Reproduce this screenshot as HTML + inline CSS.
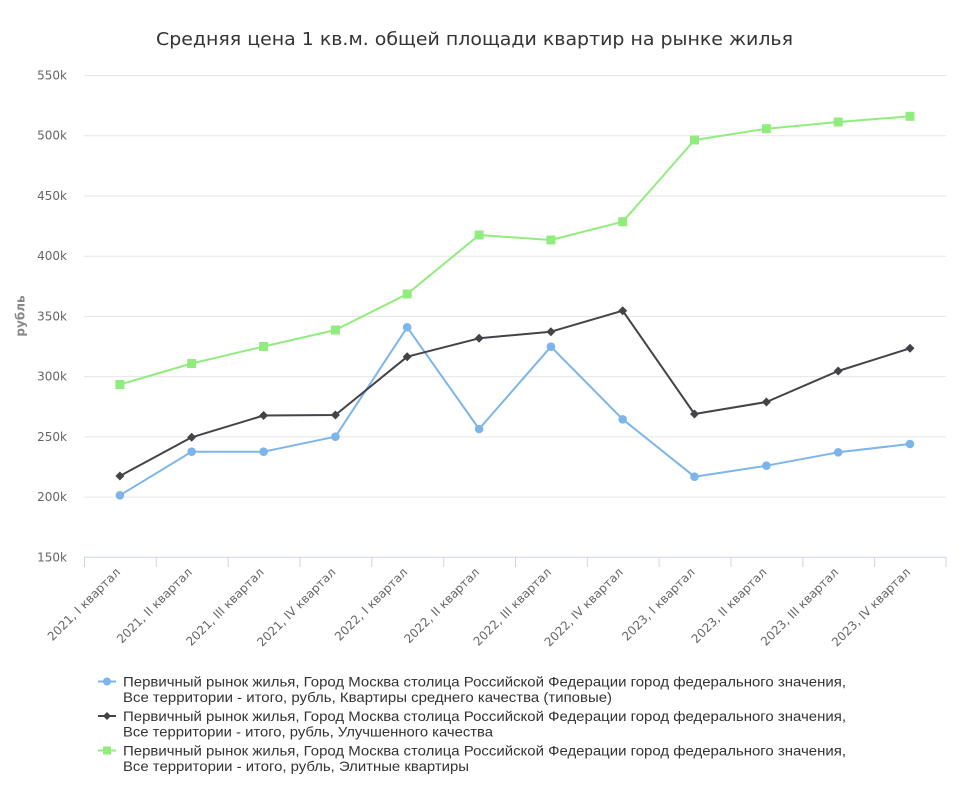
<!DOCTYPE html>
<html>
<head>
<meta charset="utf-8">
<style>
html,body{margin:0;padding:0;background:#fff;}
svg{display:block;}
</style>
</head>
<body>
<svg width="970" height="801" viewBox="0 0 970 801" xmlns="http://www.w3.org/2000/svg">
<rect width="970" height="801" fill="#ffffff"/>
<!-- title -->
<text x="156" y="45" font-family="'DejaVu Sans', sans-serif" font-size="18" fill="#333333" textLength="637" lengthAdjust="spacingAndGlyphs">Средняя цена 1 кв.м. общей площади квартир на рынке жилья</text>

<!-- grid -->
<g stroke="#e6e6e6" stroke-width="1" fill="none">
<line x1="84" y1="75.5" x2="946" y2="75.5"/>
<line x1="84" y1="135.7" x2="946" y2="135.7"/>
<line x1="84" y1="196" x2="946" y2="196"/>
<line x1="84" y1="256.2" x2="946" y2="256.2"/>
<line x1="84" y1="316.4" x2="946" y2="316.4"/>
<line x1="84" y1="376.6" x2="946" y2="376.6"/>
<line x1="84" y1="436.9" x2="946" y2="436.9"/>
<line x1="84" y1="497.1" x2="946" y2="497.1"/>
</g>
<!-- x axis -->
<g stroke="#ccd6eb" stroke-width="1" fill="none">
<line x1="84" y1="557.3" x2="946.5" y2="557.3"/>
<line x1="84.5" y1="557" x2="84.5" y2="567"/>
<line x1="156.3" y1="557" x2="156.3" y2="567"/>
<line x1="228.2" y1="557" x2="228.2" y2="567"/>
<line x1="300" y1="557" x2="300" y2="567"/>
<line x1="371.8" y1="557" x2="371.8" y2="567"/>
<line x1="443.7" y1="557" x2="443.7" y2="567"/>
<line x1="515.5" y1="557" x2="515.5" y2="567"/>
<line x1="587.3" y1="557" x2="587.3" y2="567"/>
<line x1="659.1" y1="557" x2="659.1" y2="567"/>
<line x1="731" y1="557" x2="731" y2="567"/>
<line x1="802.8" y1="557" x2="802.8" y2="567"/>
<line x1="874.6" y1="557" x2="874.6" y2="567"/>
<line x1="946" y1="557" x2="946" y2="567"/>
</g>

<!-- y labels -->
<g font-family="'DejaVu Sans', sans-serif" font-size="12" fill="#666666" text-anchor="end">
<text x="67" y="79.5">550k</text>
<text x="67" y="139.7">500k</text>
<text x="67" y="200">450k</text>
<text x="67" y="260.2">400k</text>
<text x="67" y="320.4">350k</text>
<text x="67" y="380.6">300k</text>
<text x="67" y="440.9">250k</text>
<text x="67" y="501.1">200k</text>
<text x="67" y="561.3">150k</text>
</g>
<text transform="translate(24.5,316) rotate(-90)" text-anchor="middle" font-family="'DejaVu Sans', sans-serif" font-size="12" font-weight="bold" fill="#888888">рубль</text>

<!-- x labels -->
<g font-family="'DejaVu Sans', sans-serif" font-size="12" fill="#666666" text-anchor="end">
<text transform="translate(121,573) rotate(-45)">2021, I квартал</text>
<text transform="translate(192.8,573) rotate(-45)">2021, II квартал</text>
<text transform="translate(264.6,573) rotate(-45)">2021, III квартал</text>
<text transform="translate(336.4,573) rotate(-45)">2021, IV квартал</text>
<text transform="translate(408.2,573) rotate(-45)">2022, I квартал</text>
<text transform="translate(480.1,573) rotate(-45)">2022, II квартал</text>
<text transform="translate(551.9,573) rotate(-45)">2022, III квартал</text>
<text transform="translate(623.7,573) rotate(-45)">2022, IV квартал</text>
<text transform="translate(695.5,573) rotate(-45)">2023, I квартал</text>
<text transform="translate(767.4,573) rotate(-45)">2023, II квартал</text>
<text transform="translate(839.2,573) rotate(-45)">2023, III квартал</text>
<text transform="translate(911,573) rotate(-45)">2023, IV квартал</text>
</g>

<!-- series blue -->
<polyline fill="none" stroke="#7cb5ec" stroke-width="2" stroke-linejoin="round" points="119.9,495.3 191.7,451.7 263.6,451.7 335.4,436.7 407.2,327.3 479.1,429 550.9,346.7 622.7,419.3 694.5,476.7 766.4,465.7 838.2,452.3 910,444"/>
<g fill="#7cb5ec">
<circle cx="119.9" cy="495.3" r="4.3"/>
<circle cx="191.7" cy="451.7" r="4.3"/>
<circle cx="263.6" cy="451.7" r="4.3"/>
<circle cx="335.4" cy="436.7" r="4.3"/>
<circle cx="407.2" cy="327.3" r="4.3"/>
<circle cx="479.1" cy="429" r="4.3"/>
<circle cx="550.9" cy="346.7" r="4.3"/>
<circle cx="622.7" cy="419.3" r="4.3"/>
<circle cx="694.5" cy="476.7" r="4.3"/>
<circle cx="766.4" cy="465.7" r="4.3"/>
<circle cx="838.2" cy="452.3" r="4.3"/>
<circle cx="910" cy="444" r="4.3"/>
</g>

<!-- series black -->
<polyline fill="none" stroke="#434348" stroke-width="2" stroke-linejoin="round" points="119.9,476 191.7,437.3 263.6,415.5 335.4,415 407.2,356.7 479.1,338.3 550.9,331.7 622.7,310.7 694.5,414 766.4,402 838.2,371 910,348.3"/>
<g fill="#434348">
<path d="M119.9 471.5 L124.4 476 L119.9 480.5 L115.4 476 Z"/>
<path d="M191.7 432.8 L196.2 437.3 L191.7 441.8 L187.2 437.3 Z"/>
<path d="M263.6 411 L268.1 415.5 L263.6 420 L259.1 415.5 Z"/>
<path d="M335.4 410.5 L339.9 415 L335.4 419.5 L330.9 415 Z"/>
<path d="M407.2 352.2 L411.7 356.7 L407.2 361.2 L402.7 356.7 Z"/>
<path d="M479.1 333.8 L483.6 338.3 L479.1 342.8 L474.6 338.3 Z"/>
<path d="M550.9 327.2 L555.4 331.7 L550.9 336.2 L546.4 331.7 Z"/>
<path d="M622.7 306.2 L627.2 310.7 L622.7 315.2 L618.2 310.7 Z"/>
<path d="M694.5 409.5 L699 414 L694.5 418.5 L690 414 Z"/>
<path d="M766.4 397.5 L770.9 402 L766.4 406.5 L761.9 402 Z"/>
<path d="M838.2 366.5 L842.7 371 L838.2 375.5 L833.7 371 Z"/>
<path d="M910 343.8 L914.5 348.3 L910 352.8 L905.5 348.3 Z"/>
</g>

<!-- series green -->
<polyline fill="none" stroke="#90ed7d" stroke-width="2" stroke-linejoin="round" points="119.9,384.5 191.7,363.5 263.6,346.5 335.4,330 407.2,294 479.1,235 550.9,240 622.7,221.7 694.5,140 766.4,128.7 838.2,122 910,116.3"/>
<g fill="#90ed7d">
<rect x="115.4" y="380" width="9" height="9"/>
<rect x="187.2" y="359" width="9" height="9"/>
<rect x="259.1" y="342" width="9" height="9"/>
<rect x="330.9" y="325.5" width="9" height="9"/>
<rect x="402.7" y="289.5" width="9" height="9"/>
<rect x="474.6" y="230.5" width="9" height="9"/>
<rect x="546.4" y="235.5" width="9" height="9"/>
<rect x="618.2" y="217.2" width="9" height="9"/>
<rect x="690" y="135.5" width="9" height="9"/>
<rect x="761.9" y="124.2" width="9" height="9"/>
<rect x="833.7" y="117.5" width="9" height="9"/>
<rect x="905.5" y="111.8" width="9" height="9"/>
</g>

<!-- legend -->
<g>
<line x1="98" y1="681.5" x2="116" y2="681.5" stroke="#7cb5ec" stroke-width="2"/>
<circle cx="107" cy="681.5" r="4" fill="#7cb5ec"/>
<line x1="98" y1="716" x2="116" y2="716" stroke="#434348" stroke-width="2"/>
<path d="M107 712 L111 716 L107 720 L103 716 Z" fill="#434348"/>
<line x1="98" y1="750.5" x2="116" y2="750.5" stroke="#90ed7d" stroke-width="2"/>
<rect x="103" y="746.5" width="8" height="8" fill="#90ed7d"/>
</g>
<g font-family="'Liberation Sans', sans-serif" font-size="14" fill="#333333">
<text x="123" y="686.5" textLength="723" lengthAdjust="spacingAndGlyphs">Первичный рынок жилья, Город Москва столица Российской Федерации город федерального значения,</text>
<text x="123" y="702" textLength="489" lengthAdjust="spacingAndGlyphs">Все территории - итого, рубль, Квартиры среднего качества (типовые)</text>
<text x="123" y="721" textLength="723" lengthAdjust="spacingAndGlyphs">Первичный рынок жилья, Город Москва столица Российской Федерации город федерального значения,</text>
<text x="123" y="736.5" textLength="370" lengthAdjust="spacingAndGlyphs">Все территории - итого, рубль, Улучшенного качества</text>
<text x="123" y="755.5" textLength="723" lengthAdjust="spacingAndGlyphs">Первичный рынок жилья, Город Москва столица Российской Федерации город федерального значения,</text>
<text x="123" y="771" textLength="346" lengthAdjust="spacingAndGlyphs">Все территории - итого, рубль, Элитные квартиры</text>
</g>
</svg>
</body>
</html>
